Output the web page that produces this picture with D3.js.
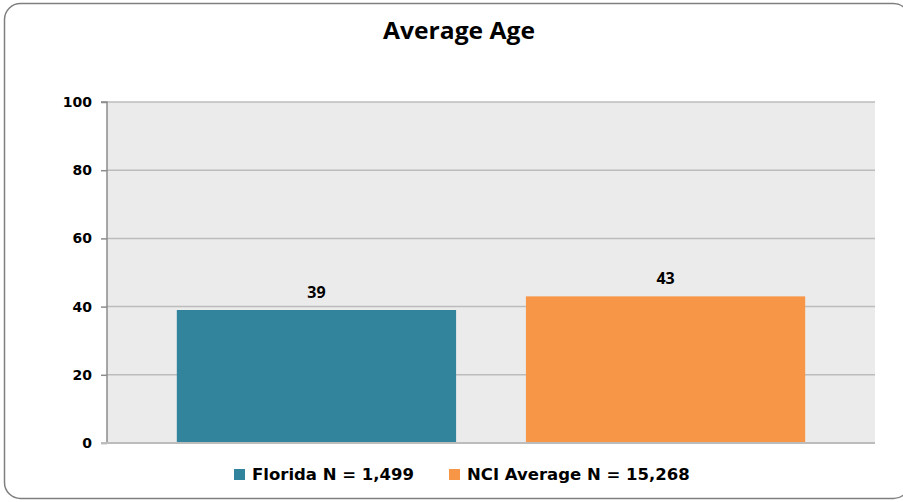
<!DOCTYPE html>
<html><head><meta charset="utf-8">
<script src="https://cdn.jsdelivr.net/npm/d3@7"></script>
<style>body{margin:0;background:#fff}svg{display:block}</style>
</head><body>
<svg id="c" width="903" height="502"></svg>
<script>
const categories = ["Florida N = 1,499", "NCI Average N = 15,268"];
const values = [39, 43];
const colors = ["#31849b", "#f79646"];
const yTicks = [0, 20, 40, 60, 80, 100];
const title = "Average Age";

const svg = d3.select("#c");
svg.append("rect").attr("x", 4.5).attr("y", 3.5).attr("width", 905).attr("height", 495)
  .attr("rx", 16).attr("fill", "#fff").attr("stroke", "#7f7f7f").attr("stroke-width", 1.5);

const L = 107, R = 875, T = 102, B = 443;
const x = d3.scaleBand().domain(categories).range([L, R]).paddingInner(0.2).paddingOuter(0.2);
const y = d3.scaleLinear().domain([0, 100]).range([B, T]);

svg.append("rect").attr("x", L).attr("y", T).attr("width", R - L).attr("height", B - T).attr("fill", "#ebebeb");

svg.append("g").selectAll("line").data(yTicks.filter(d => d > 0)).join("line")
  .attr("x1", L).attr("x2", R).attr("y1", d => y(d)).attr("y2", d => y(d))
  .attr("stroke", "#bcbcbc").attr("stroke-width", 1.5);

const ax = svg.append("g").attr("transform", `translate(${L},0)`)
  .call(d3.axisLeft(y).tickValues(yTicks).tickSize(6).tickPadding(9));
ax.select(".domain").attr("stroke", "#8c8c8c").attr("stroke-width", 1.5).attr("d", `M-6,${T}H0V${B}`);
ax.selectAll(".tick line").attr("stroke", "#8c8c8c").attr("stroke-width", 1.5);
ax.selectAll(".tick text").attr("font-family", "DejaVu Sans").attr("font-weight", "bold")
  .attr("font-size", 14).attr("fill", "#000");

svg.append("g").selectAll("rect").data(values).join("rect")
  .attr("x", (d, i) => x(categories[i])).attr("width", x.bandwidth())
  .attr("y", d => y(d)).attr("height", d => B - y(d))
  .attr("fill", (d, i) => colors[i]);

svg.append("line").attr("x1", L - 6).attr("x2", R).attr("y1", B).attr("y2", B)
  .attr("stroke", "#bcbcbc").attr("stroke-width", 2);

svg.append("g").selectAll("text").data(values).join("text")
  .attr("x", (d, i) => x(categories[i]) + x.bandwidth() / 2).attr("y", d => y(d) - 12)
  .attr("text-anchor", "middle").attr("font-family", "Open Sans").attr("font-weight", "bold")
  .attr("font-size", 16).attr("fill", "#000").text(d => d);

svg.append("text").attr("x", 459).attr("y", 39).attr("text-anchor", "middle")
  .attr("font-family", "Open Sans").attr("font-weight", "bold").attr("font-size", 23)
  .attr("textLength", 152).attr("lengthAdjust", "spacingAndGlyphs")
  .attr("fill", "#000").text(title);

const legX = [234, 449];
const lg = svg.append("g").selectAll("g").data(categories).join("g")
  .attr("transform", (d, i) => `translate(${legX[i]},0)`);
lg.append("rect").attr("x", 0).attr("y", 469).attr("width", 11).attr("height", 11)
  .attr("fill", (d, i) => colors[i]);
lg.append("text").attr("x", 18).attr("y", 480).attr("font-family", "DejaVu Sans")
  .attr("font-weight", "bold").attr("font-size", 16.5).attr("fill", "#000").text(d => d);
</script>
</body></html>
